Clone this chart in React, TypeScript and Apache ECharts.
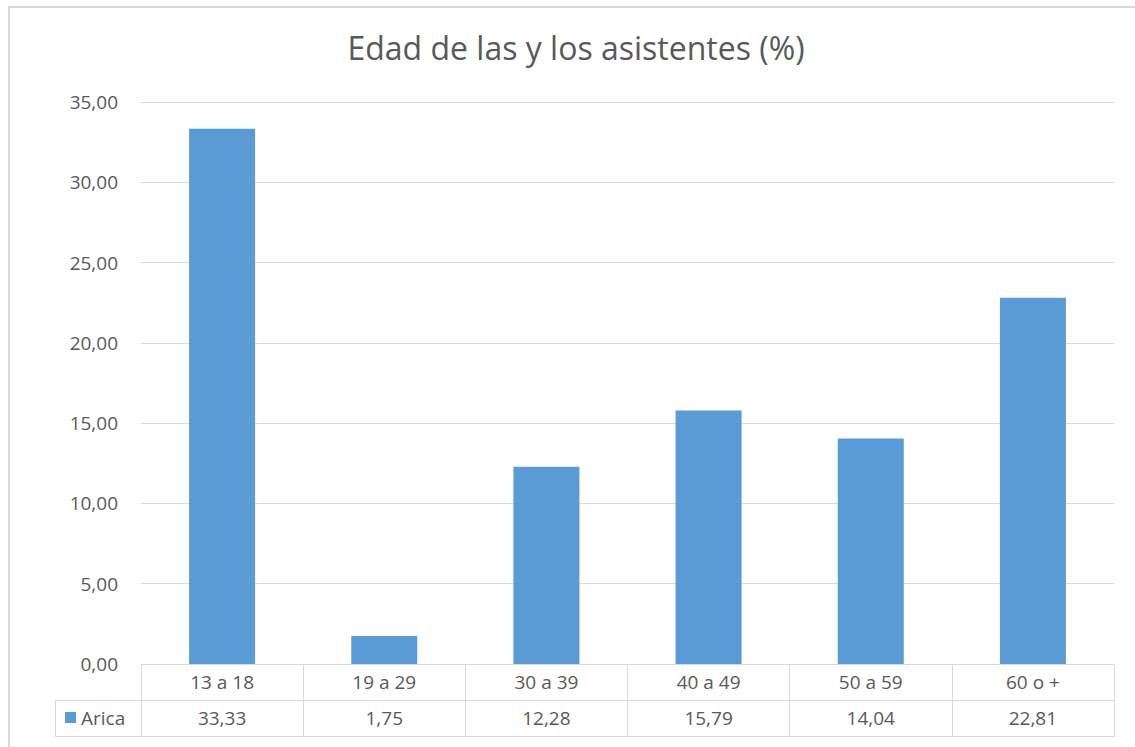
import React, { useEffect, useRef } from "react";
import * as echarts from "echarts";

const TITLE = "Edad de las y los asistentes (%)";
const SERIES_NAME = "Arica";
const categories = ["13 a 18", "19 a 29", "30 a 39", "40 a 49", "50 a 59", "60 o +"];
const values = [33.33, 1.75, 12.28, 15.79, 14.04, 22.81];
const Y_MIN = 0;
const Y_MAX = 35;
const Y_INTERVAL = 5;

const fmt = (v: number) => v.toFixed(2).replace(".", ",");

const FONT = "'Open Sans', 'Noto Sans', sans-serif";
const TEXT = "#595959";
const LINE = "#d9d9d9";
const BAR = "#5b9bd5";
const FS = 19;

export default function App() {
  const ref = useRef<HTMLDivElement>(null);
  useEffect(() => {
    if (!ref.current) return;
    const chart = echarts.init(ref.current, undefined, { renderer: "svg" });
    const gridLeft = 141;
    const gridRight = 1135 - 1114;
    const gridTop = 102;
    const gridBottom = 747 - 664;
    chart.setOption({
      animation: false,
      backgroundColor: "#ffffff",
      textStyle: { fontFamily: FONT },
      title: {
        text: TITLE,
        left: 571,
        top: 26,
        textAlign: "center",
        textStyle: { fontFamily: FONT, fontSize: 32, fontWeight: "normal", color: TEXT },
      },
      legend: {
        data: [SERIES_NAME],
        left: 65,
        top: 708,
        padding: 0,
        icon: "rect",
        itemWidth: 11,
        itemHeight: 11,
        textStyle: { fontFamily: FONT, fontSize: FS, color: TEXT },
      },
      grid: { left: gridLeft, right: gridRight, top: gridTop, bottom: gridBottom, containLabel: false },
      xAxis: [
        {
          type: "category",
          data: categories,
          position: "bottom",
          axisLine: { show: true, lineStyle: { color: LINE, width: 1 } },
          axisTick: { show: true, length: 73, inside: false, lineStyle: { color: LINE, width: 1 } },
          axisLabel: { margin: 8, fontFamily: FONT, fontSize: FS, color: TEXT },
          splitLine: { show: false },
        },
        {
          type: "category",
          data: values.map(fmt),
          position: "bottom",
          offset: 0,
          axisLine: { show: false },
          axisTick: { show: false },
          axisLabel: { margin: 44, fontFamily: FONT, fontSize: FS, color: TEXT },
          splitLine: { show: false },
        },
      ],
      yAxis: {
        type: "value",
        min: Y_MIN,
        max: Y_MAX,
        interval: Y_INTERVAL,
        axisLine: { show: false },
        axisTick: { show: false },
        axisLabel: { margin: 23, fontFamily: FONT, fontSize: FS, color: TEXT, formatter: (v: number) => fmt(v) },
        splitLine: { lineStyle: { color: LINE, width: 1 } },
      },
      series: [
        {
          name: SERIES_NAME,
          type: "bar",
          data: values,
          barWidth: 66,
          itemStyle: { color: BAR },
          xAxisIndex: 0,
        },
      ],
      graphic: [
        {
          type: "rect",
          shape: { x: 9, y: 7, width: 1140, height: 760 },
          style: { fill: "none", stroke: LINE, lineWidth: 2 },
          silent: true,
        },
        {
          type: "line",
          shape: { x1: 55, y1: 700.5, x2: 1114, y2: 700.5 },
          style: { stroke: LINE, lineWidth: 1 },
          silent: true,
        },
        {
          type: "line",
          shape: { x1: 55, y1: 736.5, x2: 1114, y2: 736.5 },
          style: { stroke: LINE, lineWidth: 1 },
          silent: true,
        },
        {
          type: "line",
          shape: { x1: 55.5, y1: 700, x2: 55.5, y2: 737 },
          style: { stroke: LINE, lineWidth: 1 },
          silent: true,
        },
      ],
    });
    return () => chart.dispose();
  }, []);
  return (
    <div
      ref={ref}
      style={{ position: "fixed", left: 0, top: 0, width: 1135, height: 747 }}
    />
  );
}
